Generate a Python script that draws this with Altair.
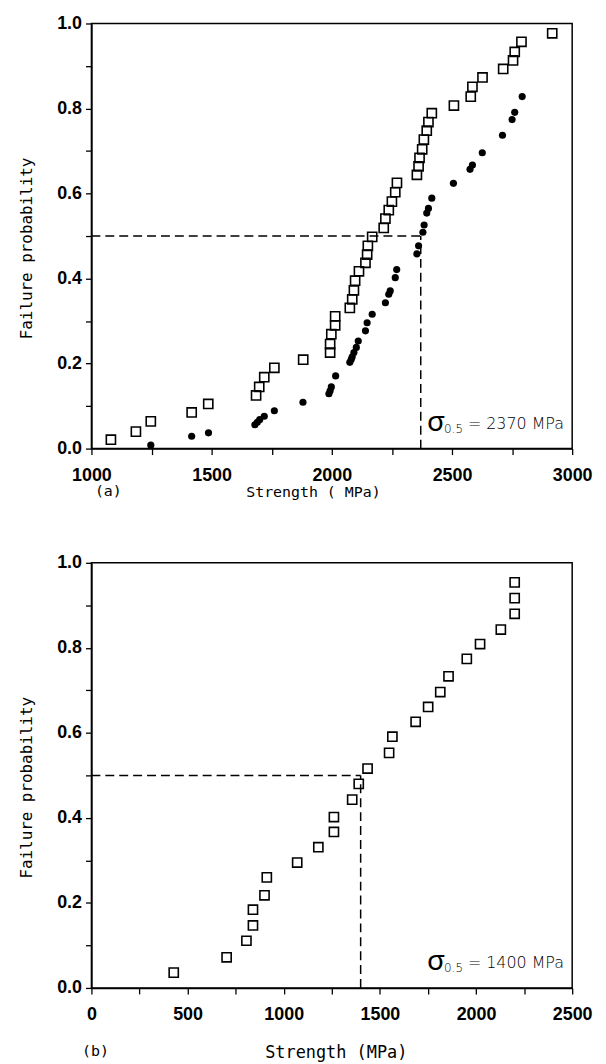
import altair as alt
import pandas as pd

# ---------------- data ----------------
# panel (a): open squares
a_sq_x = [1081, 1185, 1247, 1417, 1486, 1685, 1698, 1719, 1761, 1881,
          1993, 1993, 1998, 2014, 2014, 2075, 2085, 2092, 2097, 2113,
          2140, 2147, 2150, 2168, 2216, 2223, 2237, 2250, 2264, 2271,
          2354, 2361, 2365, 2376, 2383, 2395, 2402, 2416, 2508, 2578,
          2585, 2627, 2713, 2754, 2761, 2789, 2917]
a_sq_y = [0.021, 0.040, 0.064, 0.085, 0.105, 0.125, 0.145, 0.168, 0.190, 0.209,
          0.226, 0.246, 0.269, 0.290, 0.311, 0.331, 0.351, 0.372, 0.395, 0.417,
          0.437, 0.456, 0.477, 0.498, 0.519, 0.541, 0.561, 0.581, 0.603, 0.625,
          0.644, 0.664, 0.684, 0.704, 0.727, 0.748, 0.768, 0.789, 0.807, 0.828,
          0.851, 0.873, 0.893, 0.913, 0.933, 0.957, 0.977]
# panel (a): filled circles
a_dot_x = [1247, 1417, 1487, 1680, 1690, 1700, 1719, 1761, 1880, 1988,
           1993, 1998, 2016, 2075, 2081, 2085, 2092, 2102, 2110, 2140,
           2147, 2168, 2223, 2237, 2243, 2264, 2270, 2354, 2361, 2379,
           2384, 2395, 2402, 2416, 2506, 2575, 2585, 2626, 2710, 2750,
           2761, 2792]
a_dot_y = [0.008, 0.029, 0.037, 0.056, 0.062, 0.068, 0.076, 0.089, 0.109, 0.129,
           0.136, 0.145, 0.171, 0.203, 0.210, 0.216, 0.226, 0.238, 0.253, 0.277,
           0.296, 0.316, 0.343, 0.363, 0.371, 0.402, 0.421, 0.458, 0.477, 0.509,
           0.526, 0.554, 0.565, 0.589, 0.624, 0.657, 0.667, 0.696, 0.737, 0.774,
           0.791, 0.828]
# panel (b): open squares
b_sq_x = [428, 703, 806, 840, 840, 900, 912, 1070, 1180, 1261,
          1261, 1356, 1390, 1436, 1548, 1565, 1686, 1751, 1814, 1857,
          1952, 2021, 2129, 2201, 2201, 2201]
b_sq_y = [0.036, 0.072, 0.111, 0.147, 0.184, 0.218, 0.260, 0.295, 0.331, 0.367,
          0.402, 0.443, 0.480, 0.516, 0.553, 0.591, 0.626, 0.661, 0.696, 0.733,
          0.774, 0.809, 0.843, 0.880, 0.917, 0.954]

a_xdomain = [1000, 3000]
b_xdomain = [0, 2500]
a_xticks = [1000, 1250, 1500, 1750, 2000, 2250, 2500, 2750, 3000]
b_xticks = [0, 250, 500, 750, 1000, 1250, 1500, 1750, 2000, 2250, 2500]
y_ticks = [0.0, 0.1, 0.2, 0.3, 0.4, 0.5, 0.6, 0.7, 0.8, 0.9, 1.0]
a_median = 2370
b_median = 1400
p_half = 0.5
a_label = "(a)"
b_label = "(b)"
a_xtitle = "Strength ( MPa)"
b_xtitle = "Strength (MPa)"
y_title = "Failure probability"

W, H = 484, 428
LABEL_FONT = "Liberation Sans"
TITLE_FONT = "DejaVu Sans Mono"
ANN_FONT = "DejaVu Sans"


def panel(sq_x, sq_y, dot_x, dot_y, xdomain, xticks, median, label, xtitle,
          xtitle_pad, xtitle_size, xtitle_x, label_xy, major):
    x_axis = alt.Axis(values=xticks, title=xtitle, grid=False,
                      labelExpr=f"datum.value % {major} == 0 ? datum.label : ''",
                      format="d", titlePadding=xtitle_pad,
                      titleFontSize=xtitle_size, titleX=xtitle_x)
    y_axis = alt.Axis(values=y_ticks, title=y_title, grid=False,
                      labelExpr="round(datum.value*10) % 2 == 0 ? format(datum.value, '.1f') : ''",
                      titlePadding=22, titleY=226)
    xs = alt.Scale(domain=xdomain, nice=False, zero=False)
    ys = alt.Scale(domain=[0, 1], nice=False)

    layers = []
    sq = pd.DataFrame({"x": sq_x, "y": sq_y})
    layers.append(
        alt.Chart(sq).mark_point(shape="square", filled=False, size=85,
                                 strokeWidth=1.6, color="black", opacity=1)
        .encode(x=alt.X("x:Q", scale=xs, axis=x_axis),
                y=alt.Y("y:Q", scale=ys, axis=y_axis))
    )
    if dot_x:
        dots = pd.DataFrame({"x": dot_x, "y": dot_y})
        layers.append(
            alt.Chart(dots).mark_circle(size=52, color="black", opacity=1)
            .encode(x="x:Q", y="y:Q")
        )
    hline = pd.DataFrame({"x": [xdomain[0]], "x2": [median], "y": [p_half]})
    vline = pd.DataFrame({"x": [median], "y": [0.0], "y2": [p_half]})
    layers.append(
        alt.Chart(hline).mark_rule(strokeDash=[9, 5], strokeWidth=1.5, color="black")
        .encode(x="x:Q", x2="x2:Q", y="y:Q")
    )
    layers.append(
        alt.Chart(vline).mark_rule(strokeDash=[9, 5], strokeWidth=1.5, color="black")
        .encode(x="x:Q", y="y:Q", y2="y2:Q")
    )
    one = pd.DataFrame({"k": [0]})
    layers.append(
        alt.Chart(one).mark_text(font="Lato", fontSize=29, fontWeight=400,
                                 align="left", baseline="middle", color="black")
        .encode(x=alt.value(338), y=alt.value(H - 27), text=alt.value("σ"))
    )
    layers.append(
        alt.Chart(one).mark_text(font=ANN_FONT, fontSize=12, fontWeight=300,
                                 align="left", baseline="middle", color="black")
        .encode(x=alt.value(355), y=alt.value(H - 20), text=alt.value("0.5"))
    )
    layers.append(
        alt.Chart(one).mark_text(font=ANN_FONT, fontSize=16, fontWeight=300,
                                 align="left", baseline="middle", color="black")
        .encode(x=alt.value(379), y=alt.value(H - 25),
                text=alt.value(f"= {median} MPa"))
    )
    layers.append(
        alt.Chart(one).mark_text(font=TITLE_FONT, fontSize=15, fontWeight=400,
                                 align="center", baseline="middle", color="black")
        .encode(x=alt.value(label_xy[0]), y=alt.value(label_xy[1]),
                text=alt.value(label))
    )
    return alt.layer(*layers).properties(width=W, height=H)


top = panel(a_sq_x, a_sq_y, a_dot_x, a_dot_y, a_xdomain, a_xticks, a_median,
            a_label, a_xtitle, 0, 15, 223, (17, 471), 500)
bottom = panel(b_sq_x, b_sq_y, [], [], b_xdomain, b_xticks, b_median,
               b_label, b_xtitle, 21, 17, 246, (4, 492), 500)

chart = alt.vconcat(top, bottom, spacing=53).properties(
    padding={"left": 10, "top": 2, "right": 5, "bottom": 0}
).configure_view(
    stroke="black", strokeWidth=1.5
).configure_axis(
    domainColor="black", domainWidth=1.5, tickColor="black", tickWidth=1.3,
    tickSize=6, labelFont=LABEL_FONT, labelFontSize=18, labelFontWeight="bold",
    labelColor="black", labelPadding=12, titleFont=TITLE_FONT, titleFontSize=16,
    titleFontWeight="normal", titleColor="black", labelFlush=False
).configure_axisY(labelPadding=4)

chart.save("out.html", embed_options={"renderer": "svg", "actions": False})
